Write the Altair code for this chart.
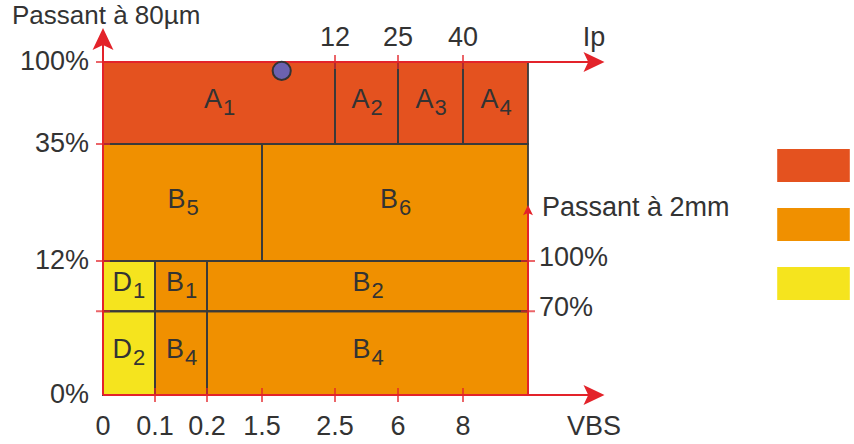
import altair as alt
import numpy as np
import pandas as pd

# ---- classification zones (VBS on x, passant à 80 µm on y) ----
reg_letter = ["A", "A", "A", "A", "B", "B", "D", "B", "B", "D", "B", "B"]
reg_sub    = ["1", "2", "3", "4", "5", "6", "1", "1", "2", "2", "4", "4"]
reg_x0     = [0,   2.5, 6,   8,   0,   1.5, 0,   0.1, 0.2, 0,   0.1, 0.2]
reg_x1     = [2.5, 6,   8,   10,  1.5, 10,  0.1, 0.2, 10,  0.1, 0.2, 10]
reg_y0     = [35,  35,  35,  35,  12,  12,  7.5, 7.5, 7.5, 0,   0,   0]
reg_y1     = [100, 100, 100, 100, 35,  35,  12,  12,  12,  7.5, 7.5, 7.5]

# ---- axes ticks / labels ----
vbs_ticks  = [0, 0.1, 0.2, 1.5, 2.5, 6, 8]
vbs_labels = ["0", "0.1", "0.2", "1.5", "2.5", "6", "8"]
p80_ticks  = [100, 35, 12, 0]
p80_labels = ["100%", "35%", "12%", "0%"]
ip_labels  = ["12", "25", "40"]
ip_at_vbs  = [2.5, 6, 8]
p2mm_labels = ["100%", "70%"]
p2mm_at_p80 = [12, 7.5]

# sample point
pt_vbs = [1.77]
pt_p80 = [93]

RED = "#E3232A"
TXT = "#333333"
FONT = "Liberation Sans"
zone_colors = ["#E4521F", "#F09000", "#F5E41E"]

# piecewise (non-linear) axes of the classification chart
X_DOM = [0, 0.1, 0.2, 1.5, 2.5, 6, 8, 10, 12]
X_RNG = [103, 155, 207, 262, 335, 398, 463, 528, 594]
Y_DOM = [0, 12, 35, 100, 110]
Y_RNG = [395, 261, 144, 62, 39]

xs = alt.Scale(domain=X_DOM, range=X_RNG)
ys = alt.Scale(domain=Y_DOM, range=Y_RNG)


def visual_mid(a, b, dom, rng):
    """data value that the piecewise scale places half way between a and b"""
    r = np.array(rng, dtype=float)
    d = np.array(dom, dtype=float)
    pa, pb = np.interp(a, d, r), np.interp(b, d, r)
    pm = (pa + pb) / 2
    if r[0] > r[-1]:
        return float(np.interp(pm, r[::-1], d[::-1]))
    return float(np.interp(pm, r, d))


regions = pd.DataFrame({"cls": reg_letter, "sub": reg_sub,
                        "x0": reg_x0, "x1": reg_x1, "y0": reg_y0, "y1": reg_y1})
regions["xm"] = [visual_mid(a, b, X_DOM, X_RNG) for a, b in zip(reg_x0, reg_x1)]
regions["ym"] = [visual_mid(a, b, Y_DOM, Y_RNG) for a, b in zip(reg_y0, reg_y1)]

X = lambda f: alt.X(f, type="quantitative", scale=xs, axis=None)
Y = lambda f: alt.Y(f, type="quantitative", scale=ys, axis=None)

fills = alt.Chart(regions).mark_rect(strokeWidth=0).encode(
    x=X("x0"), x2="x1", y=Y("y0"), y2="y1",
    color=alt.Color("cls:N",
                    scale=alt.Scale(domain=["A", "B", "D"], range=zone_colors),
                    legend=alt.Legend(title=None, orient="none", legendX=797, legendY=149,
                                      symbolType="M-2.2,-1H2.2V1H-2.2Z", symbolSize=1089,
                                      labelExpr="''", rowPadding=26, padding=0,
                                      symbolStrokeWidth=0, symbolOpacity=1)),
)

borders = alt.Chart(regions).mark_rect(fillOpacity=0, stroke="#3a3a3a", strokeWidth=1.8).encode(
    x=X("x0"), x2="x1", y=Y("y0"), y2="y1")

letters = alt.Chart(regions).mark_text(font=FONT, fontSize=27, color=TXT, align="right",
                                       baseline="alphabetic", dx=3, dy=5).encode(
    x=X("xm"), y=Y("ym"), text="cls:N")
subs = alt.Chart(regions).mark_text(font=FONT, fontSize=22, color=TXT, align="left",
                                    baseline="alphabetic", dx=4, dy=12).encode(
    x=X("xm"), y=Y("ym"), text="sub:N")

# axis lines
axes_df = pd.DataFrame({"x": [0, 0, 0, 10], "x2": [0, 12, 12, 10],
                        "y": [0, 100, 0, 0], "y2": [110, 100, 0, 22]})
axis_lines = alt.Chart(axes_df).mark_rule(color=RED, strokeWidth=2).encode(
    x=X("x"), x2="x2", y=Y("y"), y2="y2")

arrows_df = pd.DataFrame({"x": [0, 12, 12, 10], "y": [110, 100, 0, 22],
                          "ang": [0, 90, 90, 0], "sz": [484, 440, 440, 110]})
arrows = alt.Chart(arrows_df).mark_point(shape="M0,-1L0.95,1L0,0.55L-0.95,1Z", filled=True,
                                         color=RED, opacity=1, strokeWidth=0).encode(
    x=X("x"), y=Y("y"), angle=alt.Angle("ang:Q", scale=None), size=alt.Size("sz:Q", scale=None))

# ticks
bottom_ticks = alt.Chart(pd.DataFrame({"v": vbs_ticks[1:]})).transform_calculate(p="0").mark_tick(
    orient="vertical", color=RED, size=14, thickness=2).encode(x=X("v"), y=Y("p"))
top_ticks = alt.Chart(pd.DataFrame({"v": ip_at_vbs})).transform_calculate(p="100").mark_tick(
    orient="vertical", color=RED, size=14, thickness=2).encode(x=X("v"), y=Y("p"))
left_ticks = alt.Chart(pd.DataFrame({"v": [100, 35, 12] + p2mm_at_p80[1:]})).transform_calculate(p="0").mark_tick(
    orient="horizontal", color=RED, size=14, thickness=2).encode(x=X("p"), y=Y("v"))
right_ticks = alt.Chart(pd.DataFrame({"v": p2mm_at_p80})).transform_calculate(p="10").mark_tick(
    orient="horizontal", color=RED, size=14, thickness=2).encode(x=X("p"), y=Y("v"))

# sample point
point = alt.Chart(pd.DataFrame({"x": pt_vbs, "y": pt_p80})).mark_point(
    shape="circle", filled=True, size=330, color="#6C62B0", opacity=1,
    stroke="#333333", strokeWidth=2).encode(x=X("x"), y=Y("y"))


def txt(df, **kw):
    base = dict(font=FONT, fontSize=27, color=TXT, baseline="middle")
    base.update(kw)
    return alt.Chart(df).mark_text(**base)


left_labels = txt(pd.DataFrame({"v": p80_ticks, "t": p80_labels}), align="right", dx=-14).transform_calculate(
    p="0").encode(x=X("p"), y=Y("v"), text="t:N")
bottom_labels = txt(pd.DataFrame({"v": vbs_ticks, "t": vbs_labels}), align="center", dy=32).transform_calculate(
    p="0").encode(x=X("v"), y=Y("p"), text="t:N")
top_labels = txt(pd.DataFrame({"v": ip_at_vbs, "t": ip_labels}), align="center", dy=-24).transform_calculate(
    p="100").encode(x=X("v"), y=Y("p"), text="t:N")
right_labels = txt(pd.DataFrame({"v": p2mm_at_p80, "t": p2mm_labels}), align="left", dx=11, dy=-3).transform_calculate(
    p="10").encode(x=X("p"), y=Y("v"), text="t:N")

titles_df = pd.DataFrame({
    "x": [0, 12, 12, 10],
    "y": [110, 100, 0, 22],
    "t": ["Passant à 80µm", "Ip", "VBS", "Passant à 2mm"],
})
t_p80 = txt(titles_df.iloc[[0]], align="left", baseline="alphabetic", fontSize=26, dx=-91, dy=-15).encode(
    x=X("x"), y=Y("y"), text="t:N")
t_ip = txt(titles_df.iloc[[1]], align="center", dy=-24).encode(x=X("x"), y=Y("y"), text="t:N")
t_vbs = txt(titles_df.iloc[[2]], align="center", dy=32).encode(x=X("x"), y=Y("y"), text="t:N")
t_p2 = txt(titles_df.iloc[[3]], align="left", dx=14, dy=-2).encode(x=X("x"), y=Y("y"), text="t:N")

chart = alt.layer(
    fills, borders, letters, subs, axis_lines, bottom_ticks, top_ticks, left_ticks, right_ticks,
    arrows, point, left_labels, bottom_labels, top_labels, right_labels,
    t_p80, t_ip, t_vbs, t_p2,
).properties(
    width=854, height=444, padding=0, autosize=alt.AutoSizeParams(type="none"),
    background="white",
).configure_view(stroke=None)

chart.save("out.html", embed_options={"renderer": "svg", "actions": False})
